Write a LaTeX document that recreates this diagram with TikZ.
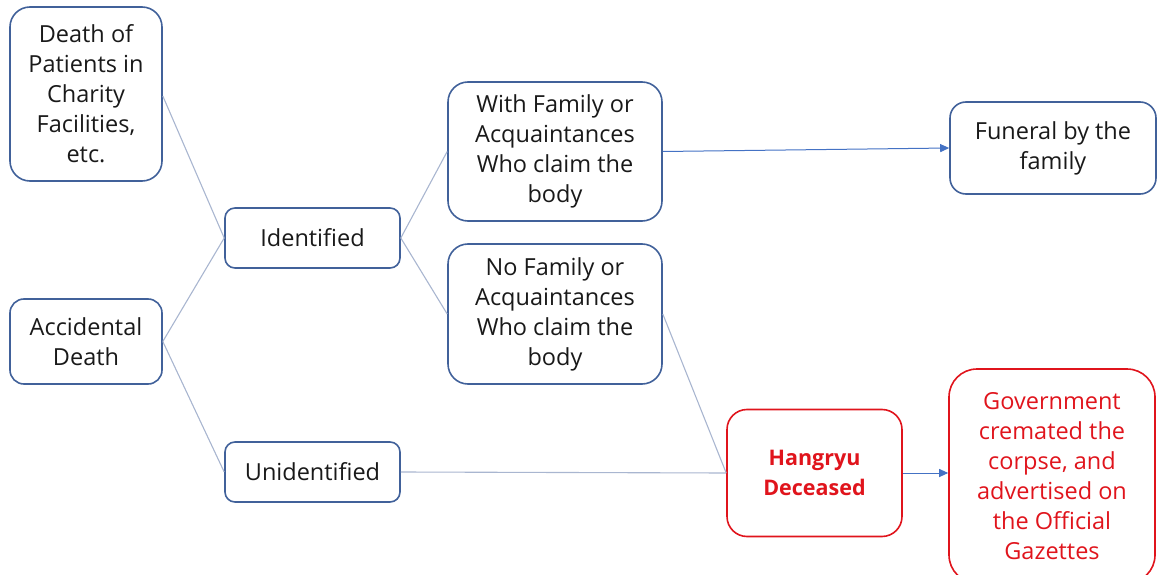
\documentclass[tikz,border=0pt]{standalone}
\usepackage{fontspec}
\setmainfont{Open Sans}
\usetikzlibrary{arrows.meta}
\definecolor{boxblue}{HTML}{41619A}
\definecolor{linegray}{HTML}{A9B6D0}
\definecolor{arrowblue}{HTML}{4472C4}
\definecolor{redtext}{HTML}{E0141C}
\tikzset{
  box/.style={draw=boxblue, line width=1.6pt, rounded corners=#1, align=center, inner sep=0pt,
    font=\fontsize{23.5}{30}\selectfont, text=black!90},
  box/.default=12pt,
  redbox/.style={box=#1, draw=redtext, text=redtext},
  redbox/.default=18pt,
  conn/.style={draw=linegray, line width=1.1pt},
  arr/.style={draw=arrowblue, line width=1pt, -{Triangle[length=9pt,width=8pt]}},
}
\begin{document}
\begin{tikzpicture}[x=1pt,y=-1pt]
\useasboundingbox (0,0) rectangle (1157,575);
\node[box=20pt, minimum width=152pt, minimum height=174pt] (death) at (86,94)
  {Death of\\Patients in\\Charity\\Facilities,\\etc.};
\node[box=14pt, minimum width=152pt, minimum height=85pt] (acc) at (86,341.5) {Accidental\\Death};
\node[box=10pt, minimum width=175pt, minimum height=60pt] (ident) at (312.5,238) {Identified};
\node[box=10pt, minimum width=175pt, minimum height=60pt] (unid) at (312.5,472) {Unidentified};
\node[box=20pt, minimum width=214pt, minimum height=139pt] (withf) at (555,151.5)
  {With Family or\\Acquaintances\\Who claim the\\body};
\node[box=20pt, minimum width=214pt, minimum height=140pt] (nof) at (555,314)
  {No Family or\\Acquaintances\\Who claim the\\body};
\node[box=16pt, minimum width=206pt, minimum height=92pt] (fun) at (1053,148) {Funeral by the\\family};
\node[redbox=20pt, minimum width=175pt, minimum height=127pt, font=\fontsize{21.5}{30}\selectfont\bfseries] (hang) at (814.5,473)
  {Hangryu\\Deceased};
\node[redbox=28pt, minimum width=206pt, minimum height=214pt] (gov) at (1052,476)
  {Government\\cremated the\\corpse, and\\advertised on\\the Official\\Gazettes};
\draw[conn] (death.east |- 0,96) -- (ident.west);
\draw[conn] (acc.east) -- (ident.west);
\draw[conn] (acc.east) -- (unid.west);
\draw[conn] (ident.east) -- (withf.west);
\draw[conn] (ident.east) -- (nof.west);
\draw[conn] (nof.east) -- (hang.west);
\draw[conn] (unid.east) -- (hang.west);
\draw[arr] (withf.east) -- (fun.west);
\draw[arr] (hang.east) -- (hang.east -| gov.west);
\end{tikzpicture}
\end{document}
